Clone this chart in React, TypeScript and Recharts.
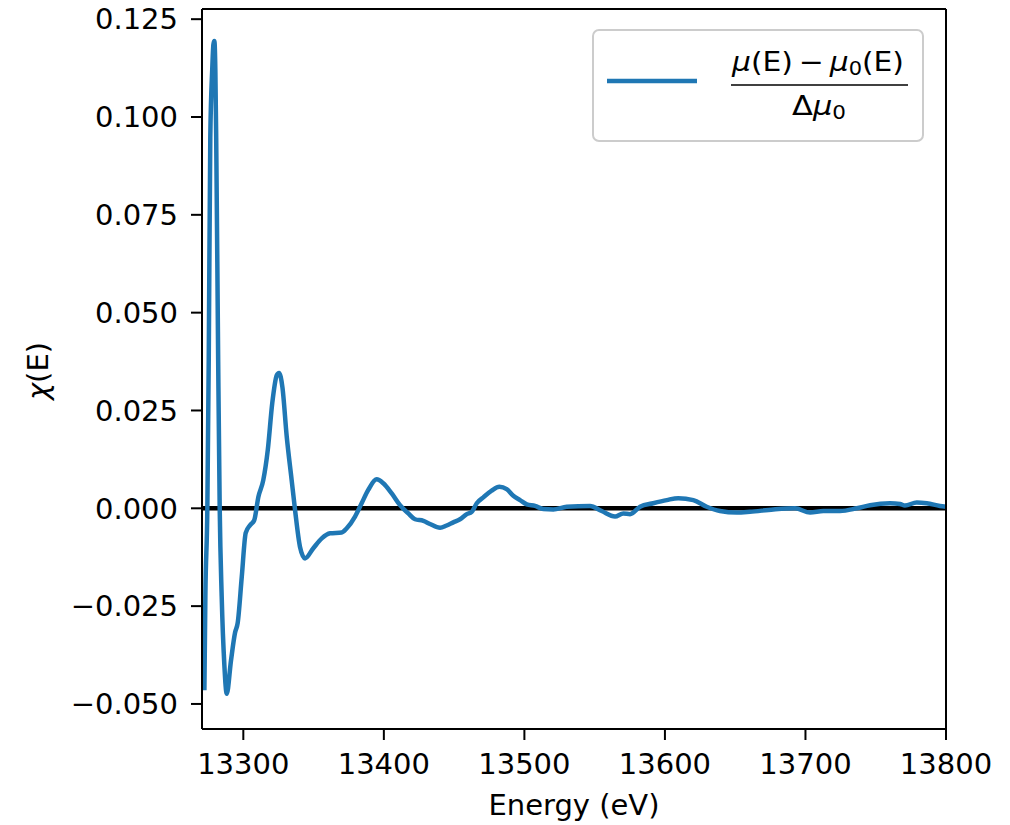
import React from 'react';
import { LineChart, Line, XAxis, YAxis, ReferenceLine, Legend } from 'recharts';

// Energy (eV) sample positions
const energy = [
  13272.3, 13273.0, 13274.4, 13275.4, 13276.5, 13277.9, 13278.7, 13279.4, 13280.1, 13280.7,
  13282.1, 13283.2, 13284.6, 13286.5, 13288.2, 13291.2, 13294.1, 13296.0, 13298.9, 13301.7,
  13304.8, 13307.8, 13310.7, 13314.2, 13317.4, 13320.6, 13323.8, 13325.4, 13327.8, 13330.9,
  13334.4, 13336.8, 13340.3, 13343.9, 13349.8, 13355.8, 13361.7, 13370.0, 13373.6, 13379.5,
  13384.2, 13388.9, 13394.9, 13399.6, 13405.6, 13411.5, 13417.4, 13422.2, 13428.1, 13432.8,
  13440.0, 13444.7, 13449.4, 13454.2, 13459.0, 13462.5, 13466.1, 13470.8, 13476.7, 13482.2,
  13487.4, 13492.1, 13496.9, 13501.7, 13507.6, 13513.5, 13520.6, 13530.1, 13546.7, 13555.0,
  13564.5, 13570.4, 13575.2, 13582.3, 13591.7, 13601.3, 13609.5, 13620.2, 13629.7, 13639.2,
  13651.1, 13660.5, 13677.1, 13692.6, 13703.3, 13712.7, 13724.6, 13736.5, 13746.0, 13760.2,
  13767.3, 13770.8, 13779.2, 13786.3, 13795.7, 13800.0,
];

// chi(E) values
const chi = [
  -0.0465, -0.0224, 0.0, 0.038, 0.0947, 0.1123, 0.1185, 0.1194, 0.112, 0.0947,
  0.038, 0.0, -0.0224, -0.04, -0.0474, -0.039, -0.0318, -0.0293, -0.0175, -0.0063,
  -0.0043, -0.003, 0.0029, 0.0072, 0.0149, 0.0269, 0.034, 0.0346, 0.031, 0.0183,
  0.0072, -0.0004, -0.0098, -0.0128, -0.0102, -0.0077, -0.0064, -0.0062, -0.0051, -0.0021,
  0.0013, 0.0047, 0.0074, 0.0064, 0.0038, 0.0008, -0.0013, -0.0028, -0.0032, -0.004,
  -0.005, -0.0044, -0.0036, -0.0028, -0.0015, -0.0009, 0.0013, 0.0028, 0.0045, 0.0055,
  0.0049, 0.0032, 0.0021, 0.001, 0.0006, -0.0002, -0.0003, 0.0004, 0.0006, -0.0007,
  -0.0021, -0.0013, -0.0015, 0.0004, 0.0013, 0.0021, 0.0026, 0.0021, 0.0004, -0.0007,
  -0.0011, -0.0009, -0.0003, 0.0, -0.0011, -0.0007, -0.0007, 0.0, 0.0008, 0.0013,
  0.0011, 0.0007, 0.0015, 0.0013, 0.0006, 0.0004,
];

const xTicks = [13300, 13400, 13500, 13600, 13700, 13800];
const yTicks = [-0.05, -0.025, 0, 0.025, 0.05, 0.075, 0.1, 0.125];
const xDomain: [number, number] = [13270.6, 13800];
const yDomain: [number, number] = [-0.0564, 0.1276];

const data = energy.map((E, i) => ({ E, chi: chi[i] }));

const FONT = 'DejaVu Sans, Verdana, sans-serif';
const BLUE = '#1f77b4';
const FS = 29;

const fmtY = (v: number) => {
  const s = Math.abs(v).toFixed(3);
  return v < -1e-9 ? '\u2212' + s : s;
};

const YLabel = (props: any) => {
  const vb = props.viewBox || { x: 82, y: 9, width: 120, height: 720 };
  const cx = 48;
  const cy = vb.y + vb.height / 2 + 2;
  return (
    <text
      x={cx}
      y={cy}
      transform={`rotate(-90 ${cx} ${cy})`}
      textAnchor="middle"
      fontFamily={FONT}
      fontSize={FS}
      fill="#000"
    >
      <tspan fontStyle="italic">χ</tspan>(E)
    </text>
  );
};

const XLabel = (props: any) => {
  const vb = props.viewBox || { x: 202, y: 729, width: 744, height: 60 };
  const cx = vb.x + vb.width / 2;
  return (
    <text x={cx} y={815} textAnchor="middle" fontFamily={FONT} fontSize={FS} fill="#000">
      Energy (eV)
    </text>
  );
};

const LegendBox = () => (
  <svg width={334} height={115} style={{ display: 'block', overflow: 'visible' }}>
    <rect x={1} y={1} width={330} height={111} rx={6} ry={6} fill="#fff" fillOpacity={0.8} stroke="#cccccc" strokeWidth={2} />
    <line x1={15} y1={52} x2={105} y2={52} stroke={BLUE} strokeWidth={4.5} />
    <text x={140} y={42} fontFamily={FONT} fontSize={27} fill="#000" textLength={172} lengthAdjust="spacingAndGlyphs">
      <tspan fontStyle="italic">μ</tspan>(E){'\u2009\u2212\u2009'}<tspan fontStyle="italic">μ</tspan>
      <tspan fontSize={19} dy={4}>0</tspan>
      <tspan dy={-4}>(E)</tspan>
    </text>
    <line x1={139} y1={56} x2={316} y2={56} stroke="#000" strokeWidth={1.6} />
    <text x={200} y={85.5} fontFamily={FONT} fontSize={27} fill="#000" textLength={54} lengthAdjust="spacingAndGlyphs">
      Δ<tspan fontStyle="italic">μ</tspan>
      <tspan fontSize={19} dy={4}>0</tspan>
    </text>
  </svg>
);

export default function App() {
  return (
    <div style={{ position: 'absolute', left: 0, top: 0, width: 1010, height: 825, background: '#fff' }}>
      <LineChart
        width={1010}
        height={825}
        data={data}
        margin={{ top: 9, right: 64, bottom: 36, left: 82 }}
        style={{ fontFamily: FONT }}
      >
        <XAxis
          dataKey="E"
          type="number"
          domain={xDomain}
          ticks={xTicks}
          allowDataOverflow
          height={60}
          tickSize={11}
          tickMargin={13}
          axisLine={{ stroke: '#000', strokeWidth: 2 }}
          tickLine={{ stroke: '#000', strokeWidth: 2 }}
          tick={{ fill: '#000', fontSize: FS, fontFamily: FONT }}
          label={{ content: XLabel }}
          interval={0}
        />
        <YAxis
          type="number"
          domain={yDomain}
          ticks={yTicks}
          allowDataOverflow
          width={120}
          tickSize={11}
          tickMargin={13}
          tickFormatter={fmtY}
          axisLine={{ stroke: '#000', strokeWidth: 2 }}
          tickLine={{ stroke: '#000', strokeWidth: 2 }}
          tick={{ fill: '#000', fontSize: FS, fontFamily: FONT }}
          label={{ content: YLabel }}
          interval={0}
        />
        <ReferenceLine y={0} stroke="#000" strokeWidth={4.5} />
        <Line
          dataKey="chi"
          type="monotone"
          stroke={BLUE}
          strokeWidth={4.5}
          strokeLinejoin="round"
          dot={false}
          activeDot={false}
          isAnimationActive={false}
        />
        <ReferenceLine y={yDomain[1]} stroke="#000" strokeWidth={2} />
        <ReferenceLine x={xDomain[1]} stroke="#000" strokeWidth={2} />
        <Legend
          layout="vertical"
          align="center"
          verticalAlign="middle"
          wrapperStyle={{ position: 'absolute', left: 592, top: 29, width: 334, height: 115, margin: 0, padding: 0 }}
          content={LegendBox}
        />
      </LineChart>
    </div>
  );
}
